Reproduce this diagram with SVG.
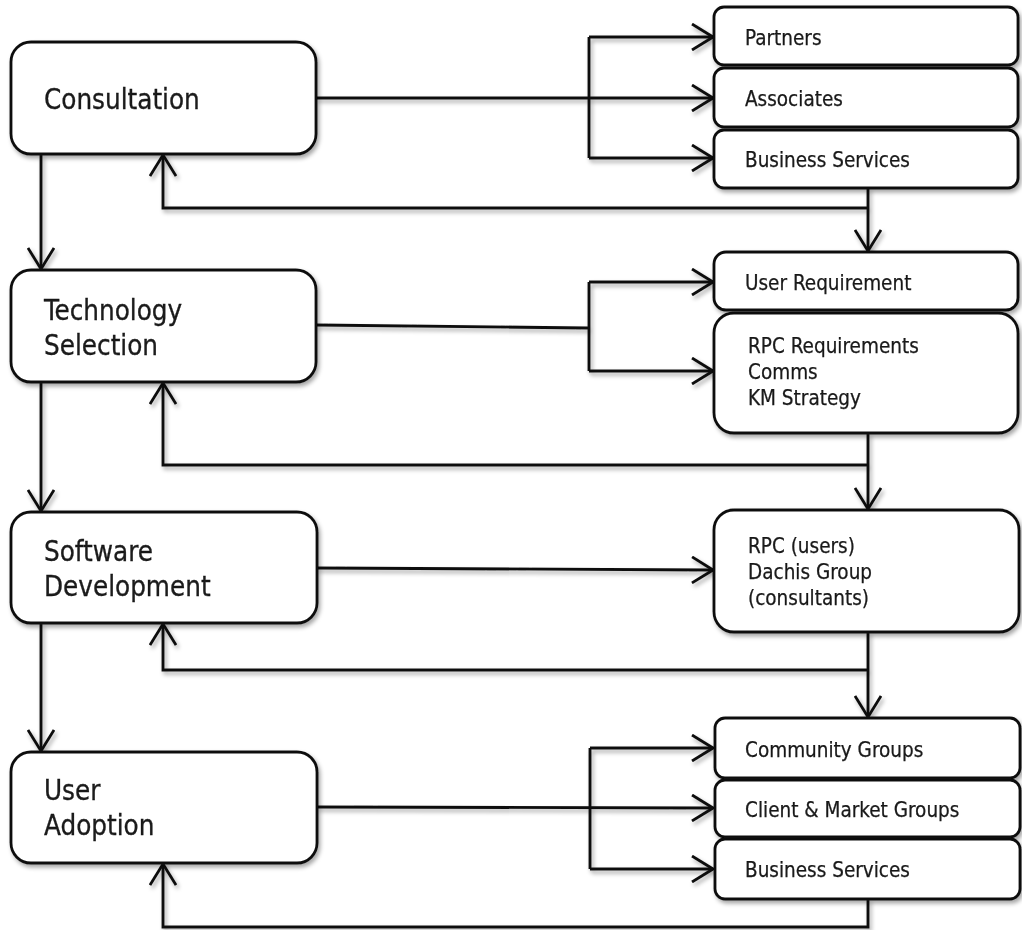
<svg xmlns="http://www.w3.org/2000/svg" width="1022" height="930" viewBox="0 0 1022 930">
<style>
.box{fill:#fff;stroke:#111;stroke-width:2.8}
.big{font-family:"DejaVu Sans Condensed","DejaVu Sans",sans-serif;font-stretch:condensed;font-size:27.5px;fill:#1a1a1a;stroke:#1a1a1a;stroke-width:0.3}
.small{font-family:"DejaVu Sans Condensed","DejaVu Sans",sans-serif;font-stretch:condensed;font-size:20.5px;fill:#1a1a1a;stroke:#1a1a1a;stroke-width:0.25}
.ln{fill:none;stroke:#111;stroke-width:2.8}
.arr{marker-end:url(#ah)}
</style>
<defs>
<filter id="sh" x="-10%" y="-10%" width="130%" height="140%">
<feDropShadow dx="2" dy="3" stdDeviation="2" flood-color="#000" flood-opacity="0.35"/>
</filter>
<marker id="ah" viewBox="0 0 24 28" refX="22" refY="14" markerWidth="24" markerHeight="28" markerUnits="userSpaceOnUse" orient="auto">
<path d="M1,1 L22,14 L1,27" fill="none" stroke="#111" stroke-width="2.8"/>
</marker>
</defs>
<g id="connectors" filter="url(#sh)">
<path class="ln arr" d="M316,98 L713,98"/>
<path class="ln" d="M589,37 L589,158"/>
<path class="ln arr" d="M589,37 L713,37"/>
<path class="ln arr" d="M589,158 L713,158"/>
<path class="ln arr" d="M868,188 L868,251"/>
<path class="ln arr" d="M868,208 L163,208 L163,155"/>
<path class="ln arr" d="M41,155 L41,269"/>
<path class="ln" d="M316,325 L589,328"/>
<path class="ln" d="M589,282 L589,371"/>
<path class="ln arr" d="M589,282 L713,282"/>
<path class="ln arr" d="M589,371 L713,371"/>
<path class="ln arr" d="M868,433 L868,509"/>
<path class="ln arr" d="M868,465 L163,465 L163,383"/>
<path class="ln arr" d="M41,383 L41,511"/>
<path class="ln arr" d="M317,568 L713,570"/>
<path class="ln arr" d="M868,632 L868,717"/>
<path class="ln arr" d="M868,670 L163,670 L163,624"/>
<path class="ln arr" d="M41,624 L41,751"/>
<path class="ln arr" d="M317,807 L713,808"/>
<path class="ln" d="M590,748 L590,869"/>
<path class="ln arr" d="M590,748 L713,748"/>
<path class="ln arr" d="M590,869 L713,869"/>
<path class="ln arr" d="M868,899 L868,927 L163,927 L163,864"/>
</g>
<g id="consultation" filter="url(#sh)">
<rect class="box" x="11" y="42" width="305" height="112" rx="20"/>
<text class="big" x="44" y="109">Consultation</text>
</g>
<g id="technology-selection" filter="url(#sh)">
<rect class="box" x="11" y="270" width="305" height="112" rx="20"/>
<text class="big" x="44" y="320">Technology</text>
<text class="big" x="44" y="355">Selection</text>
</g>
<g id="software-development" filter="url(#sh)">
<rect class="box" x="11" y="512" width="306" height="111" rx="20"/>
<text class="big" x="44" y="561">Software</text>
<text class="big" x="44" y="596">Development</text>
</g>
<g id="user-adoption" filter="url(#sh)">
<rect class="box" x="11" y="752" width="306" height="111" rx="20"/>
<text class="big" x="44" y="800">User</text>
<text class="big" x="44" y="835">Adoption</text>
</g>
<g id="partners" filter="url(#sh)">
<rect class="box" x="714" y="7" width="304" height="58" rx="10"/>
<text class="small" x="745" y="45">Partners</text>
</g>
<g id="associates" filter="url(#sh)">
<rect class="box" x="714" y="68" width="304" height="59" rx="10"/>
<text class="small" x="745" y="106">Associates</text>
</g>
<g id="business-services-1" filter="url(#sh)">
<rect class="box" x="714" y="130" width="304" height="58" rx="10"/>
<text class="small" x="745" y="167">Business Services</text>
</g>
<g id="user-requirement" filter="url(#sh)">
<rect class="box" x="714" y="252" width="304" height="58" rx="12"/>
<text class="small" x="745" y="290">User Requirement</text>
</g>
<g id="rpc-requirements" filter="url(#sh)">
<rect class="box" x="714" y="313" width="304" height="120" rx="20"/>
<text class="small" x="748" y="353">RPC Requirements</text>
<text class="small" x="748" y="379">Comms</text>
<text class="small" x="748" y="405">KM Strategy</text>
</g>
<g id="rpc-users" filter="url(#sh)">
<rect class="box" x="714" y="510" width="305" height="122" rx="20"/>
<text class="small" x="748" y="553">RPC (users)</text>
<text class="small" x="748" y="579">Dachis Group</text>
<text class="small" x="748" y="605">(consultants)</text>
</g>
<g id="community-groups" filter="url(#sh)">
<rect class="box" x="715" y="718" width="305" height="60" rx="10"/>
<text class="small" x="745" y="757">Community Groups</text>
</g>
<g id="client-market-groups" filter="url(#sh)">
<rect class="box" x="715" y="780" width="305" height="57" rx="10"/>
<text class="small" x="745" y="817">Client &amp; Market Groups</text>
</g>
<g id="business-services-2" filter="url(#sh)">
<rect class="box" x="715" y="839" width="305" height="60" rx="10"/>
<text class="small" x="745" y="877">Business Services</text>
</g>
</svg>
